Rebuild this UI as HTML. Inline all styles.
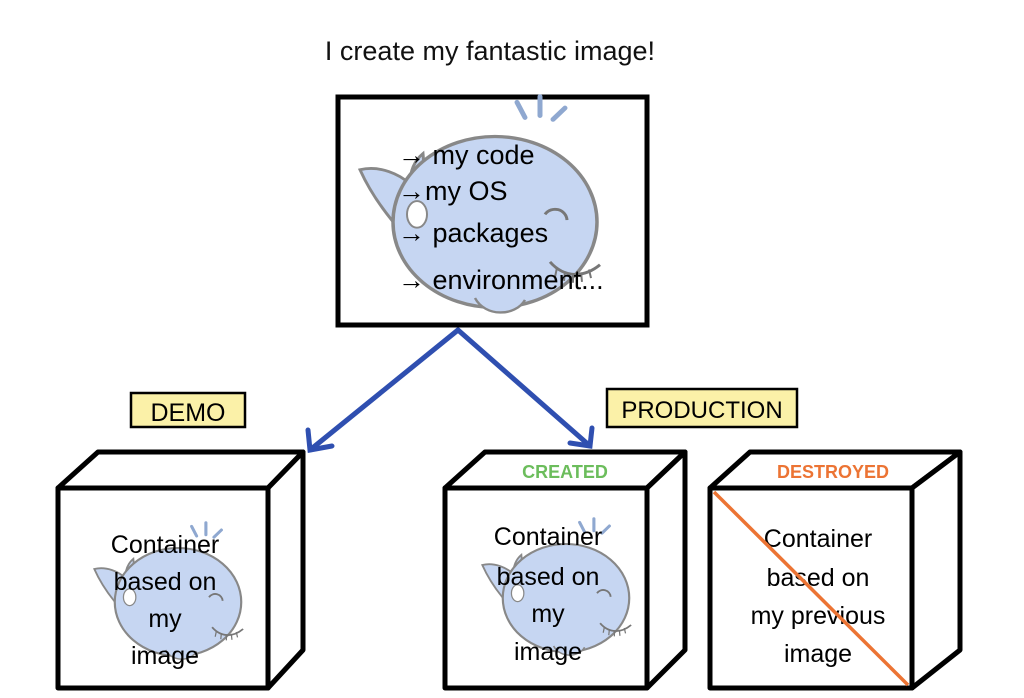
<!DOCTYPE html>
<html><head><meta charset="utf-8"><style>
html,body{margin:0;padding:0;background:#fff;}
svg{display:block;}
text{font-family:"Liberation Sans",sans-serif;}
</style></head><body>
<svg width="1024" height="698" viewBox="0 0 1024 698" xmlns="http://www.w3.org/2000/svg">
<defs>
<g id="whale">
  <path d="M-135,-55 C-115,-60 -95,-50 -85,-40 C-85,-55 -80,-65 -72,-72 C-70,-50 -72,-20 -65,5 L-60,40 C-90,20 -120,-20 -135,-55 Z" fill="#c6d6f2" stroke="#888" stroke-width="3"/>
  <ellipse cx="0" cy="0" rx="102" ry="90" fill="#c6d6f2" stroke="#888" stroke-width="3.5"/>
  <ellipse cx="-78" cy="-8" rx="10" ry="14" fill="#fff" stroke="#888" stroke-width="2"/>
  <path d="M30,-110 l-8,-16 M45,-112 l0,-20 M58,-108 l12,-12" stroke="#8fa8d0" stroke-width="5" stroke-linecap="round"/>
  <path d="M55,42 C70,60 90,58 105,45" fill="none" stroke="#777" stroke-width="3"/>
  <path d="M62,48 l-2,10 M70,52 l-1,10 M78,54 l0,10 M86,53 l1,10 M94,50 l2,9" stroke="#777" stroke-width="2"/>
  <path d="M50,-8 a12,12 0 0 1 22,6" fill="none" stroke="#777" stroke-width="3"/>
  <path d="M-20,80 C-10,100 20,100 30,82" fill="#c6d6f2" stroke="#888" stroke-width="2.5"/>
</g>
</defs>
<text x="490" y="60" font-size="27" text-anchor="middle" fill="#111">I create my fantastic image!</text>

<rect x="338" y="97" width="309" height="228" fill="#fff" stroke="#000" stroke-width="5"/>
<g transform="translate(495,222) scale(1,0.95)"><use href="#whale"/></g>
<g font-size="27" fill="#000">
<text x="398" y="164">→ my code</text>
<text x="398" y="200">→my OS</text>
<text x="398" y="242">→ packages</text>
<text x="398" y="289">→ environment...</text>
</g>

<g stroke="#2f4fb0" stroke-width="5" fill="none" stroke-linecap="round">
<path d="M458,330 L310,450"/><path d="M308,430 L310,450 L332,446"/>
<path d="M458,330 L590,446"/><path d="M570,443 L590,446 L592,428"/>
</g>

<rect x="131" y="393" width="114" height="34" fill="#fbf1a8" stroke="#000" stroke-width="2.5"/>
<text x="188" y="421" font-size="25" text-anchor="middle">DEMO</text>
<rect x="607" y="389" width="190" height="38" fill="#fbf1a8" stroke="#000" stroke-width="2.5"/>
<text x="702" y="418" font-size="24" text-anchor="middle">PRODUCTION</text>

<!-- cube 1 -->
<g stroke="#000" stroke-width="5" fill="#fff" stroke-linejoin="round">
<path d="M58,488 L98,452 L303,452 L268,488 Z"/>
<path d="M268,488 L303,452 L303,650 L268,688 Z"/>
<rect x="58" y="488" width="210" height="200"/>
</g>
<g transform="translate(178,602) scale(0.62,0.6)"><use href="#whale"/></g>
<g font-size="25" text-anchor="middle"><text x="165" y="553">Container</text><text x="165" y="590">based on</text><text x="165" y="627">my</text><text x="165" y="664">image</text></g>

<!-- cube 2 -->
<g stroke="#000" stroke-width="5" fill="#fff" stroke-linejoin="round">
<path d="M445,488 L485,452 L685,452 L647,488 Z"/>
<path d="M647,488 L685,452 L685,650 L647,688 Z"/>
<rect x="445" y="488" width="202" height="200"/>
</g>
<text x="565" y="478" font-size="18" font-weight="bold" fill="#6cbd5c" text-anchor="middle">CREATED</text>
<g transform="translate(566,598) scale(0.62,0.6)"><use href="#whale"/></g>
<g font-size="25" text-anchor="middle"><text x="548" y="545">Container</text><text x="548" y="585">based on</text><text x="548" y="622">my</text><text x="548" y="660">image</text></g>

<!-- cube 3 -->
<g stroke="#000" stroke-width="5" fill="#fff" stroke-linejoin="round">
<path d="M710,488 L750,452 L960,452 L912,488 Z"/>
<path d="M912,488 L960,452 L960,650 L912,688 Z"/>
<rect x="710" y="488" width="202" height="200"/>
</g>
<text x="833" y="478" font-size="18" font-weight="bold" fill="#ec7434" text-anchor="middle">DESTROYED</text>
<g font-size="25" text-anchor="middle"><text x="818" y="547">Container</text><text x="818" y="586">based on</text><text x="818" y="624">my previous</text><text x="818" y="662">image</text></g>
<path d="M714,492 L908,685" stroke="#ec7434" stroke-width="3.5"/>
</svg>
</body></html>
